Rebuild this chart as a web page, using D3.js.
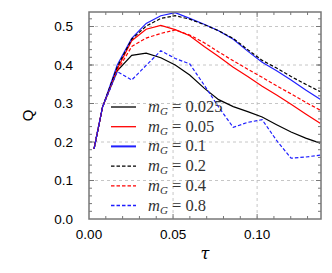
<!DOCTYPE html>
<html>
<head>
<meta charset="utf-8">
<script src="https://cdn.jsdelivr.net/npm/d3@7"></script>
<style>
  body { margin: 0; background: #fff; }
  svg { display: block; }
</style>
</head>
<body>
<script>
// tau grid
const tau = [0.003, 0.008, 0.0168, 0.0254, 0.034, 0.0427, 0.0513, 0.0599, 0.0685,
             0.0771, 0.0858, 0.0944, 0.103, 0.1116, 0.1202, 0.1289, 0.1375];

const q025 = [0.182, 0.29, 0.385, 0.425, 0.431, 0.419, 0.40, 0.374, 0.34,
              0.31, 0.292, 0.279, 0.265, 0.245, 0.226, 0.21, 0.197];
const q05  = [0.182, 0.29, 0.39, 0.463, 0.493, 0.503, 0.492, 0.476, 0.448,
              0.422, 0.394, 0.37, 0.345, 0.322, 0.298, 0.273, 0.249];
const q1   = [0.182, 0.29, 0.40, 0.469, 0.508, 0.528, 0.536, 0.521, 0.506,
              0.489, 0.467, 0.436, 0.407, 0.385, 0.361, 0.335, 0.311];
const q2   = [0.182, 0.29, 0.395, 0.467, 0.501, 0.521, 0.528, 0.519, 0.505,
              0.489, 0.469, 0.44, 0.412, 0.392, 0.37, 0.35, 0.331];
const q4   = [0.182, 0.29, 0.385, 0.448, 0.47, 0.482, 0.491, 0.478, 0.458,
              0.434, 0.411, 0.389, 0.368, 0.346, 0.325, 0.303, 0.283];
const q8   = [0.182, 0.29, 0.383, 0.361, 0.399, 0.437, 0.417, 0.403, 0.348,
              0.291, 0.238, 0.251, 0.258, 0.204, 0.158, 0.161, 0.166];

const labels = ["0.025", "0.05", "0.1", "0.2", "0.4", "0.8"];
const xTicks = [0, 0.05, 0.10];
const yTicks = [0, 0.1, 0.2, 0.3, 0.4, 0.5];

const series = [
  {name: labels[0], values: q025, color: "#000000", dash: null},
  {name: labels[1], values: q05,  color: "#ff0000", dash: null},
  {name: labels[2], values: q1,   color: "#1f1fff", dash: null},
  {name: labels[3], values: q2,   color: "#000000", dash: "3.5,2"},
  {name: labels[4], values: q4,   color: "#ff0000", dash: "3.5,2"},
  {name: labels[5], values: q8,   color: "#1f1fff", dash: "3.5,2"}
];

const width = 332, height = 273;
const margin = {top: 12, right: 11, bottom: 54, left: 89};
const w = width - margin.left - margin.right;
const h = height - margin.top - margin.bottom;

const x = d3.scaleLinear().domain([0, 0.138]).range([0, w]);
const y = d3.scaleLinear().domain([0, 0.5377]).range([h, 0]);

const svg = d3.select("body").append("svg")
  .attr("width", width)
  .attr("height", height);

const g = svg.append("g")
  .attr("transform", `translate(${margin.left},${margin.top})`);

// grid
g.selectAll(".gx").data(xTicks.filter(d => d > 0)).join("line")
  .attr("x1", d => x(d)).attr("x2", d => x(d))
  .attr("y1", 0).attr("y2", h)
  .attr("stroke", "#b8b8b8").attr("stroke-width", 0.8)
  .attr("stroke-dasharray", "3,3");
g.selectAll(".gy").data(yTicks.filter(d => d > 0)).join("line")
  .attr("x1", 0).attr("x2", w)
  .attr("y1", d => y(d)).attr("y2", d => y(d))
  .attr("stroke", "#b8b8b8").attr("stroke-width", 0.8)
  .attr("stroke-dasharray", "3,3");

// curves
const line = d3.line()
  .x((d, i) => x(tau[i]))
  .y(d => y(d));

series.forEach(s => {
  g.append("path")
    .attr("d", line(s.values))
    .attr("fill", "none")
    .attr("stroke", s.color)
    .attr("stroke-width", 1.2)
    .attr("stroke-dasharray", s.dash);
});

// ticks inward on all four sides
const xMinor = d3.range(0.01, 0.138, 0.01);
const yMinor = d3.range(0.02, 0.537, 0.02);
const tickCol = "#777";

function hTicks(yPos, dir) {
  g.selectAll(null).data(xMinor).join("line")
    .attr("x1", d => x(d)).attr("x2", d => x(d))
    .attr("y1", yPos).attr("y2", d => yPos + dir * (Math.abs(d * 20 - Math.round(d * 20)) < 1e-6 ? 5 : 3))
    .attr("stroke", tickCol).attr("stroke-width", 1);
}
function vTicks(xPos, dir) {
  g.selectAll(null).data(yMinor).join("line")
    .attr("y1", d => y(d)).attr("y2", d => y(d))
    .attr("x1", xPos).attr("x2", xPos + dir * 3)
    .attr("stroke", tickCol).attr("stroke-width", 1);
  g.selectAll(null).data(yTicks.filter(d => d > 0)).join("line")
    .attr("y1", d => y(d)).attr("y2", d => y(d))
    .attr("x1", xPos).attr("x2", xPos + dir * 5)
    .attr("stroke", tickCol).attr("stroke-width", 1);
}
hTicks(h, -1);
hTicks(0, 1);
vTicks(0, 1);
vTicks(w, -1);

// frame
g.append("rect")
  .attr("width", w).attr("height", h)
  .attr("fill", "none")
  .attr("stroke", "#777").attr("stroke-width", 1.5);

// tick labels
g.selectAll(".xl").data(xTicks).join("text")
  .attr("x", d => x(d)).attr("y", h + 20)
  .attr("text-anchor", "middle")
  .attr("font-family", "Liberation Sans, Arial, sans-serif")
  .attr("font-size", 13.5)
  .text(d3.format(".2f"));
g.selectAll(".yl").data(yTicks).join("text")
  .attr("x", -16).attr("y", d => y(d))
  .attr("dy", "0.36em")
  .attr("text-anchor", "end")
  .attr("font-family", "Liberation Sans, Arial, sans-serif")
  .attr("font-size", 13.5)
  .text(d3.format(".1f"));

// axis titles
g.append("text")
  .attr("x", w / 2).attr("y", h + 40)
  .attr("text-anchor", "middle")
  .attr("font-family", "DejaVu Serif, serif")
  .attr("font-style", "italic")
  .attr("font-size", 16)
  .text("τ");
svg.append("text")
  .attr("transform", `translate(33, ${margin.top + h / 2}) rotate(-90)`)
  .attr("text-anchor", "middle")
  .attr("font-family", "Liberation Sans, Arial, sans-serif")
  .attr("font-size", 15)
  .text("Q");

// legend
const legend = g.append("g").attr("transform", "translate(22, 95)");
series.forEach((s, i) => {
  const row = legend.append("g").attr("transform", `translate(0, ${i * 19.7})`);
  row.append("line")
    .attr("x1", 0).attr("x2", 25)
    .attr("stroke", s.color)
    .attr("stroke-width", s.name === "0.1" ? 2 : 1.3)
    .attr("stroke-dasharray", s.dash);
  const t = row.append("text")
    .attr("x", 37).attr("y", 5)
    .attr("font-family", "Liberation Serif, serif")
    .attr("font-size", 16.5)
    .attr("fill", "#333");
  t.append("tspan").attr("font-style", "italic").text("m");
  t.append("tspan").attr("font-style", "italic").attr("font-size", 11).attr("dy", 3).text("G");
  t.append("tspan").attr("dy", -3).text(" = " + s.name);
});
</script>
</body>
</html>
